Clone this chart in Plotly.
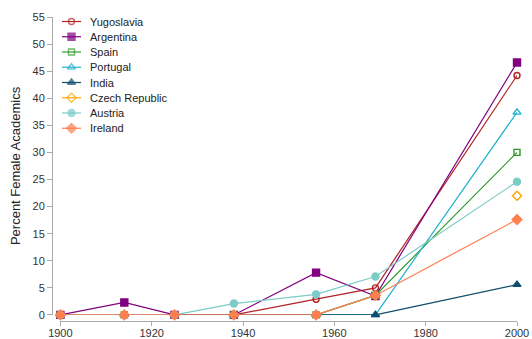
import plotly.graph_objects as go

# Survey years
years = [1900, 1914, 1925, 1938, 1956, 1969, 2000]

# Share of female academics (%) per country, one value per survey year
# (None where no figure is available)
yugoslavia = [0, 0, 0, 0, 2.9, 5.0, 44.2]
argentina = [0, 2.3, 0, 0, 7.8, 3.5, 46.6]
spain = [0, 0, 0, 0, 0, 3.6, 30.0]
portugal = [0, 0, 0, 0, 0, 0, 37.4]
india = [0, 0, 0, 0, 0, 0, 5.6]
czech_republic = [None, None, None, None, None, None, 22.0]
austria = [0, 0, 0, 2.1, 3.8, 7.1, 24.6]
ireland = [0, 0, 0, 0, 0, 3.6, 17.6]

x_ticks = [1900, 1920, 1940, 1960, 1980, 2000]
y_ticks = list(range(0, 60, 5))

series = [
    ("Yugoslavia", yugoslavia, "#b22222", "circle-open", 6),
    ("Argentina", argentina, "#800080", "square", 7),
    ("Spain", spain, "#2e9a2e", "square-open", 6),
    ("Portugal", portugal, "#1fb0cc", "triangle-up-open", 7),
    ("India", india, "#0d4f6b", "triangle-up", 7),
    ("Czech Republic", czech_republic, "#ffa500", "diamond-open", 7),
    ("Austria", austria, "#7ccbc6", "circle", 7),
    ("Ireland", ireland, "#ff7f50", "diamond", 7.5),
]

W, H = 532, 339
M_L, M_R, M_T, M_B = 52, 15, 17, 18

fig = go.Figure()
for name, values, color, symbol, size in series:
    fig.add_trace(go.Scatter(
        x=years, y=values, name=name, mode="lines+markers",
        line=dict(color=color, width=1.2),
        marker=dict(symbol=symbol, size=size, color=color,
                    line=dict(color=color, width=1.4)),
        cliponaxis=False, showlegend=False, connectgaps=False,
    ))

# Compact legend drawn on a hidden second subplot measured in pixels
leg_x0, leg_x1, leg_text_x = 62, 81, 88
leg_y0, leg_dy = 21.5, 15.25
annotations = []
for i, (name, values, color, symbol, size) in enumerate(series):
    ly = leg_y0 + i * leg_dy
    fig.add_trace(go.Scatter(
        x=[leg_x0, (leg_x0 + leg_x1) / 2, leg_x1], y=[ly, ly, ly],
        mode="lines+markers", xaxis="x2", yaxis="y2",
        line=dict(color=color, width=1.2),
        marker=dict(symbol=symbol, size=[0, size, 0], color=color,
                    line=dict(color=color, width=1.4)),
        cliponaxis=False, showlegend=False, hoverinfo="skip",
    ))
    annotations.append(dict(
        x=leg_text_x, y=ly, xref="x2", yref="y2", text=name,
        showarrow=False, xanchor="left", yanchor="middle",
        font=dict(family="Liberation Sans, Arial, sans-serif", size=11, color="#222222"),
    ))

axis_common = dict(
    showline=True, linecolor="#aaaaaa", linewidth=1,
    ticks="outside", ticklen=5, tickcolor="#aaaaaa", tickwidth=1,
    showgrid=False, zeroline=False,
    tickfont=dict(family="Liberation Sans, Arial, sans-serif", size=11, color="#333333"),
)

fig.update_layout(
    width=W, height=H,
    margin=dict(l=M_L, r=M_R, t=M_T, b=M_B, autoexpand=False),
    paper_bgcolor="white", plot_bgcolor="rgba(0,0,0,0)",
    font=dict(family="Liberation Sans, Arial, sans-serif", size=11, color="#222222"),
    xaxis=dict(axis_common, domain=[0.018, 1], range=[1900, 2000],
               tickvals=x_ticks, anchor="free", position=0,
               ticklen=4, ticklabelstandoff=-2),
    yaxis=dict(axis_common, domain=[0.02, 1], range=[0, 55],
               tickvals=y_ticks, anchor="free", position=0,
               title=dict(text="Percent Female Academics", standoff=7,
                          font=dict(size=13, color="#222222"))),
    xaxis2=dict(domain=[0, 1], range=[M_L, W - M_R], visible=False,
                anchor="y2", fixedrange=True),
    yaxis2=dict(domain=[0, 1], range=[H - M_B, M_T], visible=False,
                anchor="x2", fixedrange=True),
    annotations=annotations,
    showlegend=False,
)

fig.write_html("out.html")
